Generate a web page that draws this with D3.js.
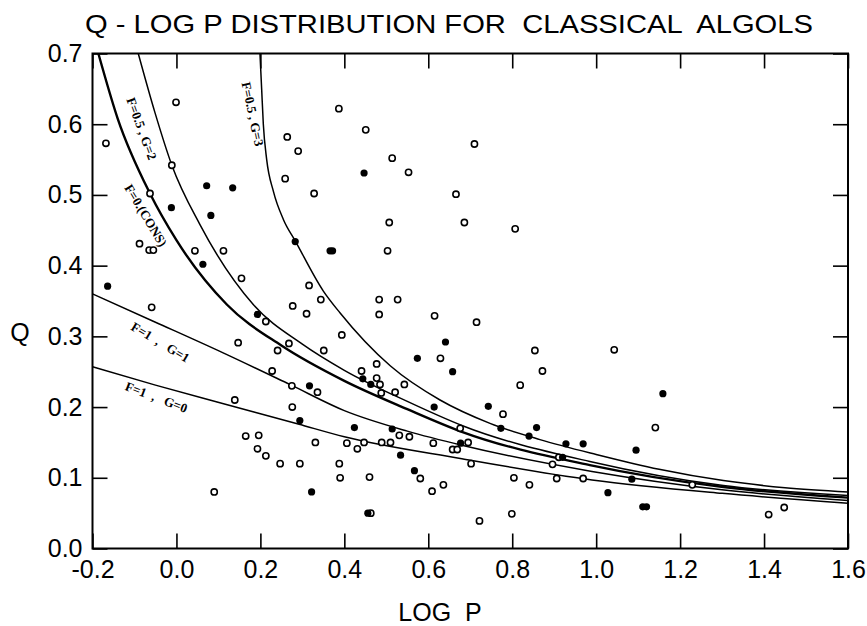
<!DOCTYPE html>
<html>
<head>
<meta charset="utf-8">
<script src="https://cdn.jsdelivr.net/npm/d3@7"></script>
<style>
  html, body { margin: 0; padding: 0; background: #fff; }
  svg { display: block; }
</style>
</head>
<body>
<svg id="chart" width="867" height="626"></svg>
<script>
// Axis tick labels
const xTickValues = [-0.2, 0.0, 0.2, 0.4, 0.6, 0.8, 1.0, 1.2, 1.4, 1.6];
const xTickLabels = ["-0.2", "0.0", "0.2", "0.4", "0.6", "0.8", "1.0", "1.2", "1.4", "1.6"];
const yTickValues = [0.0, 0.1, 0.2, 0.3, 0.4, 0.5, 0.6, 0.7];
const yTickLabels = ["0.0", "0.1", "0.2", "0.3", "0.4", "0.5", "0.6", "0.7"];

// Systems plotted with open circles: [log P, Q]
const openSystems = [
  [-0.001, 0.631], [-0.168, 0.573], [-0.011, 0.542], [-0.063, 0.502], [-0.088, 0.431],
  [-0.065, 0.422], [-0.055, 0.422], [0.044, 0.421], [0.112, 0.421], [0.155, 0.382],
  [0.264, 0.582], [0.290, 0.562], [0.259, 0.523], [0.328, 0.502], [0.316, 0.372],
  [0.344, 0.352], [0.387, 0.622], [0.451, 0.592], [0.710, 0.572], [0.514, 0.552],
  [0.553, 0.532], [0.666, 0.501], [0.507, 0.461], [0.686, 0.461], [0.807, 0.452],
  [0.503, 0.421], [0.483, 0.352], [0.527, 0.352], [-0.059, 0.341], [0.277, 0.343],
  [0.310, 0.332], [0.213, 0.321], [0.394, 0.302], [0.147, 0.291], [0.268, 0.290],
  [0.241, 0.280], [0.351, 0.280], [0.228, 0.251], [0.275, 0.230], [0.336, 0.221],
  [0.139, 0.210], [0.276, 0.200], [0.165, 0.159], [0.196, 0.160], [0.331, 0.150],
  [0.406, 0.149], [0.193, 0.141], [0.213, 0.131], [0.247, 0.120], [0.294, 0.120],
  [0.388, 0.120], [0.390, 0.100], [0.090, 0.080], [0.483, 0.331], [0.615, 0.329],
  [0.715, 0.320], [0.629, 0.269], [0.854, 0.280], [0.872, 0.251], [0.819, 0.231],
  [0.441, 0.251], [0.477, 0.261], [0.477, 0.241], [0.485, 0.232], [0.488, 0.220],
  [0.521, 0.221], [0.543, 0.232], [0.778, 0.190], [0.531, 0.160], [0.555, 0.158],
  [0.676, 0.170], [0.447, 0.150], [0.431, 0.141], [0.489, 0.150], [0.510, 0.150],
  [0.612, 0.149], [0.695, 0.150], [0.658, 0.140], [0.669, 0.140], [0.702, 0.120],
  [0.460, 0.101], [0.581, 0.099], [0.609, 0.081], [0.636, 0.090], [0.463, 0.050],
  [0.722, 0.039], [0.799, 0.049], [0.804, 0.100], [0.841, 0.090], [0.896, 0.119],
  [0.906, 0.099], [0.911, 0.129], [0.969, 0.099], [1.043, 0.281], [1.141, 0.171],
  [1.229, 0.090], [1.411, 0.048], [1.448, 0.058]
];

// Systems plotted with filled circles: [log P, Q]
const filledSystems = [
  [0.072, 0.513], [0.134, 0.510], [-0.012, 0.482], [0.082, 0.471], [0.063, 0.402],
  [-0.164, 0.371], [0.283, 0.434], [0.366, 0.421], [0.372, 0.421], [0.447, 0.531],
  [0.193, 0.331], [0.317, 0.230], [0.294, 0.181], [0.322, 0.080], [0.641, 0.292],
  [0.574, 0.269], [0.658, 0.250], [0.444, 0.240], [0.463, 0.232], [0.614, 0.200],
  [0.743, 0.201], [0.773, 0.170], [0.858, 0.171], [0.840, 0.159], [0.424, 0.171],
  [0.514, 0.169], [0.677, 0.149], [0.534, 0.132], [0.567, 0.110], [0.456, 0.050],
  [0.920, 0.129], [0.928, 0.148], [0.969, 0.148], [1.159, 0.219], [1.095, 0.139],
  [1.085, 0.098], [1.028, 0.079], [1.111, 0.059], [1.120, 0.059]
];

// Model curves: [log P, Q]
const curveF05G3 = [
  [0.199, 0.700], [0.203, 0.650], [0.207, 0.600], [0.215, 0.550], [0.231, 0.505],
  [0.255, 0.465], [0.283, 0.435], [0.350, 0.364], [0.390, 0.333], [0.510, 0.258],
  [0.628, 0.210], [0.747, 0.177], [0.866, 0.154], [1.000, 0.133], [1.150, 0.112],
  [1.303, 0.096], [1.450, 0.086], [1.600, 0.080]
];
const curveF05G2 = [
  [-0.091, 0.700], [-0.051, 0.616], [-0.011, 0.542], [0.056, 0.458], [0.183, 0.345],
  [0.300, 0.289], [0.400, 0.252], [0.550, 0.208], [0.680, 0.174], [0.985, 0.123],
  [1.303, 0.089], [1.600, 0.075]
];
const curveF0Cons = [
  [-0.186, 0.700], [-0.140, 0.608], [-0.063, 0.502], [0.000, 0.436], [0.120, 0.345],
  [0.250, 0.287], [0.400, 0.237], [0.550, 0.197], [0.680, 0.165], [0.985, 0.118],
  [1.303, 0.087], [1.600, 0.072]
];
const curveF1G1 = [
  [-0.200, 0.360], [-0.050, 0.320], [0.110, 0.277], [0.270, 0.232], [0.400, 0.195],
  [0.550, 0.166], [0.680, 0.146], [0.990, 0.109], [1.300, 0.083], [1.600, 0.068]
];
const curveF1G0 = [
  [-0.200, 0.257], [-0.050, 0.231], [0.110, 0.205], [0.290, 0.176], [0.400, 0.158],
  [0.680, 0.127], [0.990, 0.097], [1.300, 0.078], [1.600, 0.064]
];

const curveNames = ["F=0.5 , G=3", "F=0.5 , G=2", "F=0.(CONS)", "F=1  ,   G=1", "F=1  ,   G=0"];

const svg = d3.select("#chart");
const plot = { left: 92.5, right: 848, top: 53.5, bottom: 548.5 };

const x = d3.scaleLinear().domain([-0.2, 1.6]).range([plot.left, plot.right]);
const y = d3.scaleLinear().domain([0, 0.7]).range([plot.bottom, plot.top]);

const labelFont = "'Liberation Sans', Arial, Helvetica, sans-serif";

// Title
svg.append("text")
  .attr("x", 85).attr("y", 33)
  .attr("textLength", 728).attr("lengthAdjust", "spacingAndGlyphs")
  .style("white-space", "pre")
  .attr("font-family", labelFont).attr("font-size", 25)
  .attr("fill", "#000")
  .text("Q - LOG P DISTRIBUTION FOR  CLASSICAL  ALGOLS");

// Axes with inward ticks
const tickLen = 15;
function styleAxis(g) {
  g.select(".domain").remove();
  g.selectAll(".tick line").attr("stroke", "#000").attr("stroke-width", 1.6);
  g.selectAll(".tick text").attr("font-family", labelFont).attr("font-size", 25).attr("fill", "#000");
}

svg.append("g")
  .attr("transform", `translate(0,${plot.bottom})`)
  .call(d3.axisBottom(x).tickValues(xTickValues)
    .tickFormat((d, i) => xTickLabels[i]).tickSizeInner(-tickLen).tickSizeOuter(0).tickPadding(12))
  .call(styleAxis);

svg.append("g")
  .attr("transform", `translate(0,${plot.top})`)
  .call(d3.axisTop(x).tickValues(xTickValues).tickFormat("").tickSizeInner(-tickLen).tickSizeOuter(0))
  .call(styleAxis);

svg.append("g")
  .attr("transform", `translate(${plot.left},0)`)
  .call(d3.axisLeft(y).tickValues(yTickValues)
    .tickFormat((d, i) => yTickLabels[i]).tickSizeInner(-tickLen).tickSizeOuter(0).tickPadding(10))
  .call(styleAxis);

svg.append("g")
  .attr("transform", `translate(${plot.right},0)`)
  .call(d3.axisRight(y).tickValues(yTickValues).tickFormat("").tickSizeInner(-tickLen).tickSizeOuter(0))
  .call(styleAxis);

// Frame
svg.append("rect")
  .attr("x", plot.left).attr("y", plot.top)
  .attr("width", plot.right - plot.left).attr("height", plot.bottom - plot.top)
  .attr("fill", "none").attr("stroke", "#000").attr("stroke-width", 2);

// Axis titles
svg.append("text")
  .attr("x", 440).attr("y", 621).attr("text-anchor", "middle")
  .style("white-space", "pre")
  .attr("font-family", labelFont).attr("font-size", 25).attr("fill", "#000")
  .text("LOG  P");

svg.append("text")
  .attr("x", 20).attr("y", 341).attr("text-anchor", "middle")
  .attr("font-family", labelFont).attr("font-size", 25).attr("fill", "#000")
  .text("Q");

// Model curves
const line = d3.line().x(d => x(d[0])).y(d => y(d[1])).curve(d3.curveMonotoneX);
svg.append("clipPath").attr("id", "plot-clip")
  .append("rect").attr("x", plot.left).attr("y", plot.top)
  .attr("width", plot.right - plot.left).attr("height", plot.bottom - plot.top);

const curves = [
  { data: curveF05G3, width: 1.5 },
  { data: curveF05G2, width: 1.5 },
  { data: curveF0Cons, width: 2.4 },
  { data: curveF1G1, width: 1.5 },
  { data: curveF1G0, width: 1.5 }
];
svg.append("g").attr("clip-path", "url(#plot-clip)")
  .selectAll("path")
  .data(curves)
  .join("path")
  .attr("d", d => line(d.data))
  .attr("fill", "none")
  .attr("stroke", "#000")
  .attr("stroke-width", d => d.width);

// Curve labels, set along each curve
const curveLabelPlacement = [
  { at: [0.178, 0.614], angle: 78 },
  { at: [-0.086, 0.593], angle: 70 },
  { at: [-0.076, 0.470], angle: 59 },
  { at: [-0.040, 0.290], angle: 31 },
  { at: [-0.049, 0.212], angle: 21 }
];
svg.append("g").selectAll("text")
  .data(curveNames)
  .join("text")
  .attr("transform", (d, i) => {
    const p = curveLabelPlacement[i];
    return `translate(${x(p.at[0])},${y(p.at[1])}) rotate(${p.angle})`;
  })
  .attr("text-anchor", "middle")
  .attr("dominant-baseline", "middle")
  .style("white-space", "pre")
  .attr("font-family", "'Liberation Serif', 'Times New Roman', serif")
  .attr("font-weight", "bold")
  .attr("font-size", 13)
  .attr("fill", "#000")
  .text(d => d);

// Observed systems
svg.append("g").selectAll("circle")
  .data(openSystems)
  .join("circle")
  .attr("cx", d => x(d[0])).attr("cy", d => y(d[1]))
  .attr("r", 3.1)
  .attr("fill", "#fff").attr("stroke", "#000").attr("stroke-width", 1.6);

svg.append("g").selectAll("circle")
  .data(filledSystems)
  .join("circle")
  .attr("cx", d => x(d[0])).attr("cy", d => y(d[1]))
  .attr("r", 3.6)
  .attr("fill", "#000");
</script>
</body>
</html>
